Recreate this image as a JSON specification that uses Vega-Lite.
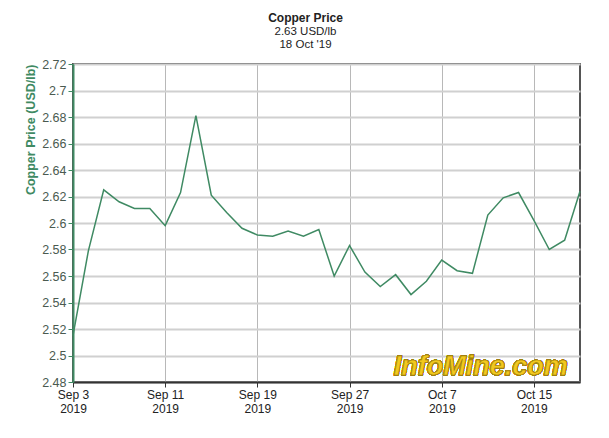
{
  "$schema": "https://vega.github.io/schema/vega-lite/v6.json",
  "width": 507,
  "height": 318,
  "autosize": "none",
  "padding": {"left": 73, "top": 64, "right": 29, "bottom": 56},
  "background": "white",
  "title": {
    "text": "Copper Price",
    "subtitle": ["2.63 USD/lb", "18 Oct '19"],
    "anchor": "middle",
    "dx": -21,
    "offset": 7,
    "font": "Liberation Sans",
    "fontSize": 12,
    "fontWeight": "bold",
    "color": "#222222",
    "subtitleFont": "Liberation Sans",
    "subtitleFontSize": 11.5,
    "subtitleColor": "#222222",
    "subtitlePadding": 1,
    "subtitleLineHeight": 13
  },
  "config": {
    "view": {"stroke": "#555555", "strokeWidth": 2},
    "font": "Liberation Sans"
  },
  "data": {
    "values": [
      {"i": 0, "date": "2019-09-03", "price": 2.515},
      {"i": 1, "date": "2019-09-04", "price": 2.579},
      {"i": 2, "date": "2019-09-05", "price": 2.625},
      {"i": 3, "date": "2019-09-06", "price": 2.616},
      {"i": 4, "date": "2019-09-09", "price": 2.611},
      {"i": 5, "date": "2019-09-10", "price": 2.611},
      {"i": 6, "date": "2019-09-11", "price": 2.598},
      {"i": 7, "date": "2019-09-12", "price": 2.623},
      {"i": 8, "date": "2019-09-13", "price": 2.681},
      {"i": 9, "date": "2019-09-16", "price": 2.621},
      {"i": 10, "date": "2019-09-17", "price": 2.608},
      {"i": 11, "date": "2019-09-18", "price": 2.596},
      {"i": 12, "date": "2019-09-19", "price": 2.591},
      {"i": 13, "date": "2019-09-20", "price": 2.590},
      {"i": 14, "date": "2019-09-23", "price": 2.594},
      {"i": 15, "date": "2019-09-24", "price": 2.590},
      {"i": 16, "date": "2019-09-25", "price": 2.595},
      {"i": 17, "date": "2019-09-26", "price": 2.560},
      {"i": 18, "date": "2019-09-27", "price": 2.583},
      {"i": 19, "date": "2019-09-30", "price": 2.563},
      {"i": 20, "date": "2019-10-01", "price": 2.552},
      {"i": 21, "date": "2019-10-02", "price": 2.561},
      {"i": 22, "date": "2019-10-03", "price": 2.546},
      {"i": 23, "date": "2019-10-04", "price": 2.556},
      {"i": 24, "date": "2019-10-07", "price": 2.572},
      {"i": 25, "date": "2019-10-08", "price": 2.564},
      {"i": 26, "date": "2019-10-09", "price": 2.562},
      {"i": 27, "date": "2019-10-10", "price": 2.606},
      {"i": 28, "date": "2019-10-11", "price": 2.619},
      {"i": 29, "date": "2019-10-14", "price": 2.623},
      {"i": 30, "date": "2019-10-15", "price": 2.602},
      {"i": 31, "date": "2019-10-16", "price": 2.580},
      {"i": 32, "date": "2019-10-17", "price": 2.587},
      {"i": 33, "date": "2019-10-18", "price": 2.624}
    ]
  },
  "layer": [
    {
      "mark": {"type": "line", "color": "#3f8a63", "strokeWidth": 1.5},
      "encoding": {
        "x": {
          "field": "i",
          "type": "quantitative",
          "scale": {"domain": [0, 33], "nice": false, "zero": false},
          "axis": {
            "title": null,
            "values": [0, 6, 12, 18, 24, 30],
            "tickCount": 40,
            "labelExpr": "datum.value == 0 ? ['Sep 3','2019'] : datum.value == 6 ? ['Sep 11','2019'] : datum.value == 12 ? ['Sep 19','2019'] : datum.value == 18 ? ['Sep 27','2019'] : datum.value == 24 ? ['Oct 7','2019'] : ['Oct 15','2019']",
            "labelFont": "Liberation Sans",
            "labelFontSize": 12,
            "labelColor": "#222222",
            "labelLineHeight": 14,
            "labelPadding": 2,
            "labelOverlap": false,
            "tickSize": 5,
            "tickColor": "#333333",
            "domainColor": "#333333",
            "domainWidth": 2,
            "grid": true,
            "gridColor": "#b8b8b8",
            "gridWidth": 1,
            "labelFlush": false
          }
        },
        "y": {
          "field": "price",
          "type": "quantitative",
          "scale": {"domain": [2.48, 2.72], "nice": false, "zero": false},
          "axis": {
            "title": "Copper Price (USD/lb)",
            "titleFont": "Liberation Sans",
            "titleFontSize": 12.5,
            "titleFontWeight": "bold",
            "titleColor": "#3f8a63",
            "titleAnchor": "end",
            "titlePadding": 4,
            "values": [2.48, 2.5, 2.52, 2.54, 2.56, 2.58, 2.6, 2.62, 2.64, 2.66, 2.68, 2.7, 2.72],
            "tickCount": 40,
            "labelExpr": "format(datum.value, '.2~f')",
            "labelFont": "Liberation Sans",
            "labelFontSize": 12.5,
            "labelColor": "#4a5a50",
            "labelPadding": 2,
            "labelOverlap": false,
            "labelFlush": false,
            "tickSize": 5,
            "tickColor": "#3f8a63",
            "domainColor": "#3f8a63",
            "domainWidth": 2,
            "grid": true,
            "gridColor": "#d0d0d0",
            "gridWidth": 2
          }
        }
      }
    },
    {
      "mark": {"type": "text", "text": "InfoMine.com", "align": "right", "baseline": "alphabetic", "font": "Liberation Sans", "fontSize": 27, "fontWeight": "bold", "fontStyle": "italic", "fill": "#f2c81e", "stroke": "#a08010", "strokeWidth": 0.6},
      "encoding": {
        "x": {"datum": 32.2, "type": "quantitative"},
        "y": {"datum": 2.4855, "type": "quantitative"}
      }
    }
  ]
}
